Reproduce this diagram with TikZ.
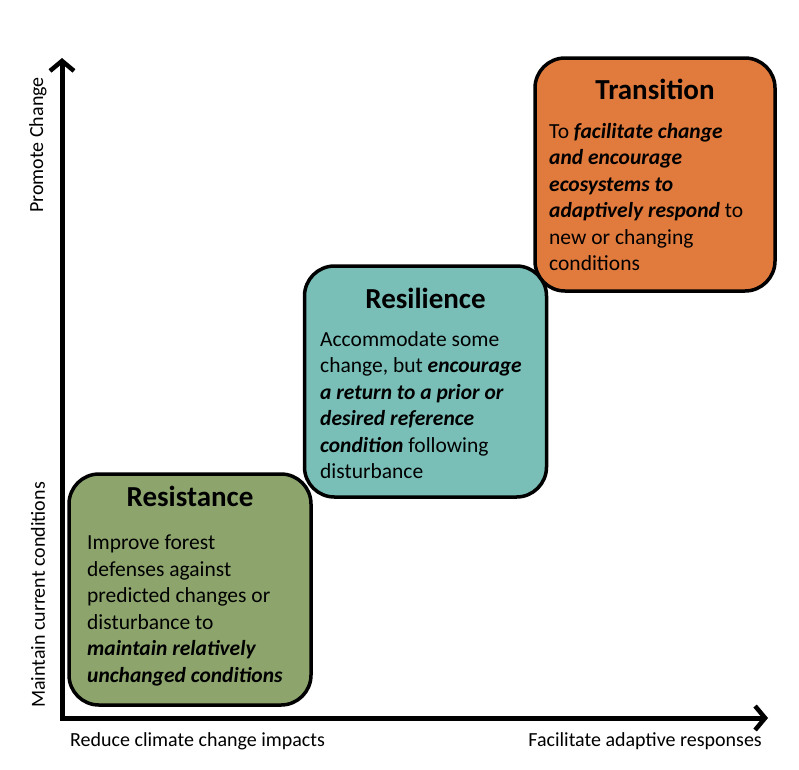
\documentclass[tikz,border=0pt]{standalone}
\usepackage{fontspec}
\setmainfont{Carlito}
\usepackage{tikz}
\usetikzlibrary{arrows.meta,positioning}
\definecolor{resistgreen}{HTML}{8DA56D}
\definecolor{resilteal}{HTML}{79BFB8}
\definecolor{transorange}{HTML}{E17A3D}

\begin{document}
\begin{tikzpicture}[
  x=1pt, y=-1pt,
  axis/.style={line width=5pt, line join=miter,
               {Straight Barb[length=10pt, width=24pt, line width=4.5pt]}-{Straight Barb[length=10pt, width=24pt, line width=4.5pt]}},
  stratbox/.style={draw=black, line width=3.5pt, rounded corners=30pt,
                   minimum width=242pt, minimum height=231pt, inner sep=0pt},
  boxtitle/.style={font=\fontsize{29}{34}\selectfont\bfseries, inner sep=0pt, anchor=north},
  boxbody/.style={font=\fontsize{21.5}{26.5}\selectfont, align=left, inner sep=0pt, anchor=north west},
  axislabel/.style={font=\fontsize{20}{24}\selectfont, inner sep=0pt},
]
  \useasboundingbox (0,0) rectangle (799,769);

  \coordinate (origin) at (62,718);
  \coordinate (ytop) at (62,58);
  \coordinate (xend) at (768,718);
  \draw[axis] (ytop) -- (origin) -- (xend);

  \node[axislabel, rotate=90] (promote) at (38,145) {Promote Change};
  \node[axislabel, rotate=90] (maintain) at (38,595) {Maintain current conditions};
  \node[axislabel, anchor=base west] (reduce) at (70,746) {Reduce climate change impacts};
  \node[axislabel, anchor=base east] (facilitate) at (762,746) {Facilitate adaptive responses};

  \node[stratbox, fill=resistgreen] (resist) at (190,589.5) {};
  \node[boxtitle] (resisttitle) at (190,486) {Resistance};
  \node[boxbody] (resistbody) at (87,535)
    {Improve forest\\defenses against\\predicted changes or\\disturbance to\\
     \textbf{\textit{maintain relatively}}\\\textbf{\textit{unchanged conditions}}};

  \node[stratbox, fill=resilteal] (resil) at (425.5,381.5) {};
  \node[boxtitle] (resiltitle) at (425.5,288) {Resilience};
  \node[boxbody] (resilbody) at (320,331)
    {Accommodate some\\change, but \textbf{\textit{encourage}}\\
     \textbf{\textit{a return to a prior or}}\\\textbf{\textit{desired reference}}\\
     \textbf{\textit{condition}} following\\disturbance};

  \node[stratbox, fill=transorange, minimum width=240pt, minimum height=233pt] (trans) at (655,174.5) {};
  \node[boxtitle] (transtitle) at (655,79) {Transition};
  \node[boxbody] (transbody) at (549,123)
    {To \textbf{\textit{facilitate change}}\\\textbf{\textit{and encourage}}\\
     \textbf{\textit{ecosystems to}}\\\textbf{\textit{adaptively respond}} to\\
     new or changing\\conditions};
\end{tikzpicture}
\end{document}
